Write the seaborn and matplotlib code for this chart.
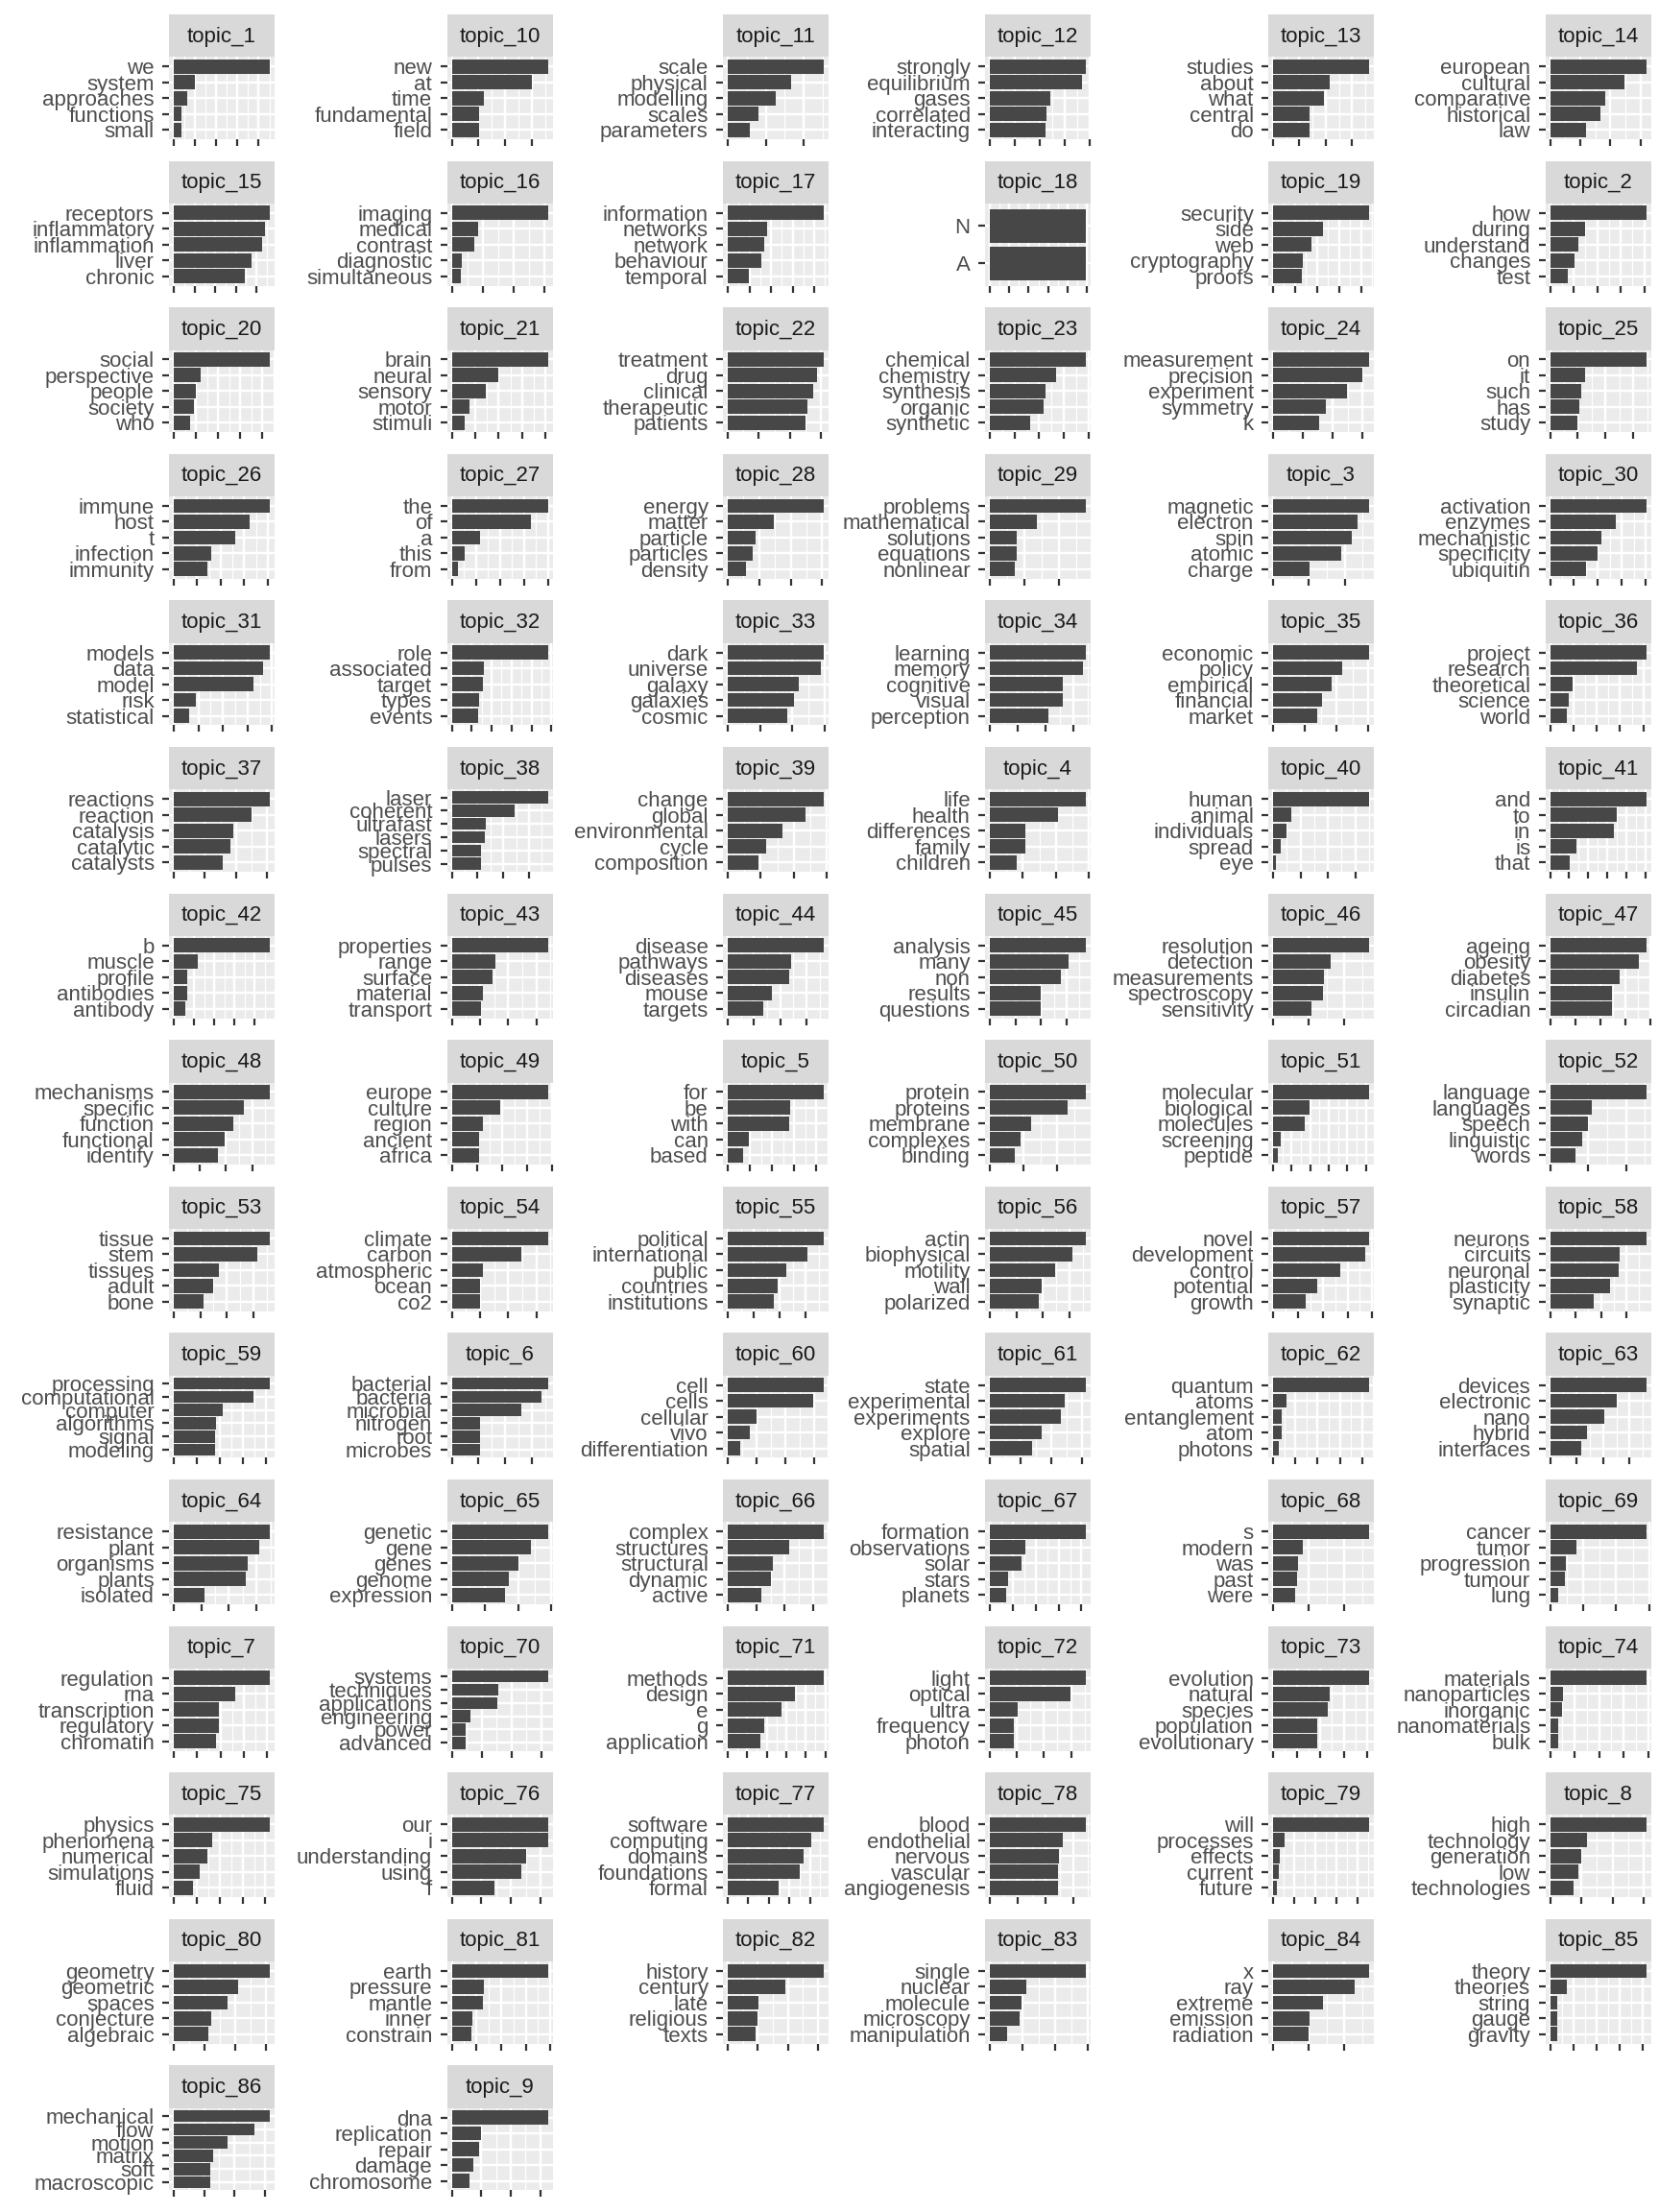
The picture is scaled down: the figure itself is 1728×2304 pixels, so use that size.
import numpy as np
import pandas as pd
import matplotlib
matplotlib.use("Agg")
import matplotlib.pyplot as plt
import seaborn as sns

plt.rcParams['font.family'] = ['Liberation Sans', 'DejaVu Sans']

# ---------------- data ----------------
topics = ["topic_1", "topic_10", "topic_11", "topic_12", "topic_13", "topic_14",
          "topic_15", "topic_16", "topic_17", "topic_18", "topic_19", "topic_2",
          "topic_20", "topic_21", "topic_22", "topic_23", "topic_24", "topic_25",
          "topic_26", "topic_27", "topic_28", "topic_29", "topic_3", "topic_30",
          "topic_31", "topic_32", "topic_33", "topic_34", "topic_35", "topic_36",
          "topic_37", "topic_38", "topic_39", "topic_4", "topic_40", "topic_41",
          "topic_42", "topic_43", "topic_44", "topic_45", "topic_46", "topic_47",
          "topic_48", "topic_49", "topic_5", "topic_50", "topic_51", "topic_52",
          "topic_53", "topic_54", "topic_55", "topic_56", "topic_57", "topic_58",
          "topic_59", "topic_6", "topic_60", "topic_61", "topic_62", "topic_63",
          "topic_64", "topic_65", "topic_66", "topic_67", "topic_68", "topic_69",
          "topic_7", "topic_70", "topic_71", "topic_72", "topic_73", "topic_74",
          "topic_75", "topic_76", "topic_77", "topic_78", "topic_79", "topic_8",
          "topic_80", "topic_81", "topic_82", "topic_83", "topic_84", "topic_85",
          "topic_86", "topic_9"]

terms = [
    ["we", "system", "approaches", "functions", "small"],
    ["new", "at", "time", "fundamental", "field"],
    ["scale", "physical", "modelling", "scales", "parameters"],
    ["strongly", "equilibrium", "gases", "correlated", "interacting"],
    ["studies", "about", "what", "central", "do"],
    ["european", "cultural", "comparative", "historical", "law"],
    ["receptors", "inflammatory", "inflammation", "liver", "chronic"],
    ["imaging", "medical", "contrast", "diagnostic", "simultaneous"],
    ["information", "networks", "network", "behaviour", "temporal"],
    ["N", "A"],
    ["security", "side", "web", "cryptography", "proofs"],
    ["how", "during", "understand", "changes", "test"],
    ["social", "perspective", "people", "society", "who"],
    ["brain", "neural", "sensory", "motor", "stimuli"],
    ["treatment", "drug", "clinical", "therapeutic", "patients"],
    ["chemical", "chemistry", "synthesis", "organic", "synthetic"],
    ["measurement", "precision", "experiment", "symmetry", "k"],
    ["on", "it", "such", "has", "study"],
    ["immune", "host", "t", "infection", "immunity"],
    ["the", "of", "a", "this", "from"],
    ["energy", "matter", "particle", "particles", "density"],
    ["problems", "mathematical", "solutions", "equations", "nonlinear"],
    ["magnetic", "electron", "spin", "atomic", "charge"],
    ["activation", "enzymes", "mechanistic", "specificity", "ubiquitin"],
    ["models", "data", "model", "risk", "statistical"],
    ["role", "associated", "target", "types", "events"],
    ["dark", "universe", "galaxy", "galaxies", "cosmic"],
    ["learning", "memory", "cognitive", "visual", "perception"],
    ["economic", "policy", "empirical", "financial", "market"],
    ["project", "research", "theoretical", "science", "world"],
    ["reactions", "reaction", "catalysis", "catalytic", "catalysts"],
    ["laser", "coherent", "ultrafast", "lasers", "spectral", "pulses"],
    ["change", "global", "environmental", "cycle", "composition"],
    ["life", "health", "differences", "family", "children"],
    ["human", "animal", "individuals", "spread", "eye"],
    ["and", "to", "in", "is", "that"],
    ["b", "muscle", "profile", "antibodies", "antibody"],
    ["properties", "range", "surface", "material", "transport"],
    ["disease", "pathways", "diseases", "mouse", "targets"],
    ["analysis", "many", "non", "results", "questions"],
    ["resolution", "detection", "measurements", "spectroscopy", "sensitivity"],
    ["ageing", "obesity", "diabetes", "insulin", "circadian"],
    ["mechanisms", "specific", "function", "functional", "identify"],
    ["europe", "culture", "region", "ancient", "africa"],
    ["for", "be", "with", "can", "based"],
    ["protein", "proteins", "membrane", "complexes", "binding"],
    ["molecular", "biological", "molecules", "screening", "peptide"],
    ["language", "languages", "speech", "linguistic", "words"],
    ["tissue", "stem", "tissues", "adult", "bone"],
    ["climate", "carbon", "atmospheric", "ocean", "co2"],
    ["political", "international", "public", "countries", "institutions"],
    ["actin", "biophysical", "motility", "wall", "polarized"],
    ["novel", "development", "control", "potential", "growth"],
    ["neurons", "circuits", "neuronal", "plasticity", "synaptic"],
    ["processing", "computational", "computer", "algorithms", "signal", "modeling"],
    ["bacterial", "bacteria", "microbial", "nitrogen", "root", "microbes"],
    ["cell", "cells", "cellular", "vivo", "differentiation"],
    ["state", "experimental", "experiments", "explore", "spatial"],
    ["quantum", "atoms", "entanglement", "atom", "photons"],
    ["devices", "electronic", "nano", "hybrid", "interfaces"],
    ["resistance", "plant", "organisms", "plants", "isolated"],
    ["genetic", "gene", "genes", "genome", "expression"],
    ["complex", "structures", "structural", "dynamic", "active"],
    ["formation", "observations", "solar", "stars", "planets"],
    ["s", "modern", "was", "past", "were"],
    ["cancer", "tumor", "progression", "tumour", "lung"],
    ["regulation", "rna", "transcription", "regulatory", "chromatin"],
    ["systems", "techniques", "applications", "engineering", "power", "advanced"],
    ["methods", "design", "e", "g", "application"],
    ["light", "optical", "ultra", "frequency", "photon"],
    ["evolution", "natural", "species", "population", "evolutionary"],
    ["materials", "nanoparticles", "inorganic", "nanomaterials", "bulk"],
    ["physics", "phenomena", "numerical", "simulations", "fluid"],
    ["our", "i", "understanding", "using", "f"],
    ["software", "computing", "domains", "foundations", "formal"],
    ["blood", "endothelial", "nervous", "vascular", "angiogenesis"],
    ["will", "processes", "effects", "current", "future"],
    ["high", "technology", "generation", "low", "technologies"],
    ["geometry", "geometric", "spaces", "conjecture", "algebraic"],
    ["earth", "pressure", "mantle", "inner", "constrain"],
    ["history", "century", "late", "religious", "texts"],
    ["single", "nuclear", "molecule", "microscopy", "manipulation"],
    ["x", "ray", "extreme", "emission", "radiation"],
    ["theory", "theories", "string", "gauge", "gravity"],
    ["mechanical", "flow", "motion", "matrix", "soft", "macroscopic"],
    ["dna", "replication", "repair", "damage", "chromosome"],
]

betas = [
    [0.0452, 0.0100, 0.0063, 0.0036, 0.0036],
    [0.0360, 0.0299, 0.0119, 0.0101, 0.0101],
    [0.0253, 0.0167, 0.0127, 0.0081, 0.0058],
    [0.0385, 0.0370, 0.0243, 0.0227, 0.0223],
    [0.0364, 0.0215, 0.0193, 0.0138, 0.0138],
    [0.0319, 0.0246, 0.0182, 0.0166, 0.0121],
    [0.0465, 0.0444, 0.0428, 0.0377, 0.0344],
    [0.0312, 0.0087, 0.0072, 0.0034, 0.0030],
    [0.0444, 0.0182, 0.0169, 0.0155, 0.0098],
    [0.0495, 0.0495],
    [0.0436, 0.0227, 0.0174, 0.0135, 0.0131],
    [0.0407, 0.0147, 0.0122, 0.0102, 0.0077],
    [0.0434, 0.0122, 0.0100, 0.0091, 0.0074],
    [0.0409, 0.0200, 0.0147, 0.0074, 0.0057],
    [0.0308, 0.0286, 0.0274, 0.0256, 0.0249],
    [0.0389, 0.0268, 0.0226, 0.0218, 0.0163],
    [0.0321, 0.0299, 0.0247, 0.0177, 0.0154],
    [0.0346, 0.0125, 0.0114, 0.0107, 0.0100],
    [0.0409, 0.0323, 0.0262, 0.0160, 0.0143],
    [0.0400, 0.0328, 0.0116, 0.0052, 0.0024],
    [0.0305, 0.0146, 0.0088, 0.0079, 0.0058],
    [0.0279, 0.0137, 0.0078, 0.0078, 0.0073],
    [0.0268, 0.0236, 0.0220, 0.0190, 0.0102],
    [0.0402, 0.0277, 0.0217, 0.0197, 0.0149],
    [0.0391, 0.0364, 0.0325, 0.0090, 0.0063],
    [0.0481, 0.0159, 0.0154, 0.0139, 0.0130],
    [0.0297, 0.0288, 0.0220, 0.0205, 0.0184],
    [0.0344, 0.0334, 0.0261, 0.0261, 0.0210],
    [0.0303, 0.0218, 0.0185, 0.0155, 0.0139],
    [0.0411, 0.0374, 0.0095, 0.0082, 0.0070],
    [0.0309, 0.0250, 0.0192, 0.0182, 0.0158],
    [0.0373, 0.0246, 0.0134, 0.0127, 0.0112, 0.0112],
    [0.0290, 0.0235, 0.0165, 0.0116, 0.0093],
    [0.0290, 0.0206, 0.0107, 0.0107, 0.0081],
    [0.0350, 0.0067, 0.0049, 0.0028, 0.0012],
    [0.0503, 0.0352, 0.0332, 0.0136, 0.0101],
    [0.0476, 0.0119, 0.0067, 0.0067, 0.0057],
    [0.0340, 0.0156, 0.0143, 0.0112, 0.0105],
    [0.0366, 0.0242, 0.0234, 0.0168, 0.0135],
    [0.0375, 0.0308, 0.0278, 0.0199, 0.0199],
    [0.0270, 0.0162, 0.0143, 0.0140, 0.0108],
    [0.0381, 0.0354, 0.0278, 0.0244, 0.0244],
    [0.0367, 0.0268, 0.0228, 0.0195, 0.0169],
    [0.0381, 0.0194, 0.0122, 0.0107, 0.0107],
    [0.0433, 0.0281, 0.0277, 0.0095, 0.0069],
    [0.0284, 0.0230, 0.0122, 0.0091, 0.0074],
    [0.0517, 0.0196, 0.0171, 0.0041, 0.0026],
    [0.0253, 0.0111, 0.0099, 0.0086, 0.0066],
    [0.0362, 0.0315, 0.0170, 0.0148, 0.0112],
    [0.0340, 0.0248, 0.0112, 0.0099, 0.0099],
    [0.0369, 0.0306, 0.0225, 0.0192, 0.0177],
    [0.0362, 0.0311, 0.0246, 0.0195, 0.0185],
    [0.0387, 0.0372, 0.0271, 0.0178, 0.0132],
    [0.0377, 0.0275, 0.0271, 0.0234, 0.0170],
    [0.0416, 0.0345, 0.0212, 0.0183, 0.0179, 0.0179],
    [0.0358, 0.0333, 0.0258, 0.0104, 0.0104, 0.0104],
    [0.0335, 0.0298, 0.0101, 0.0077, 0.0044],
    [0.0314, 0.0245, 0.0232, 0.0170, 0.0138],
    [0.0431, 0.0060, 0.0039, 0.0039, 0.0024],
    [0.0362, 0.0253, 0.0203, 0.0138, 0.0116],
    [0.0348, 0.0310, 0.0268, 0.0261, 0.0111],
    [0.0289, 0.0237, 0.0202, 0.0173, 0.0159],
    [0.0337, 0.0216, 0.0158, 0.0152, 0.0118],
    [0.0419, 0.0155, 0.0138, 0.0080, 0.0071],
    [0.0270, 0.0084, 0.0070, 0.0068, 0.0062],
    [0.0290, 0.0081, 0.0049, 0.0044, 0.0026],
    [0.0411, 0.0263, 0.0193, 0.0193, 0.0181],
    [0.0321, 0.0157, 0.0154, 0.0061, 0.0045, 0.0045],
    [0.0492, 0.0344, 0.0276, 0.0187, 0.0167],
    [0.0355, 0.0298, 0.0103, 0.0089, 0.0089],
    [0.0407, 0.0240, 0.0232, 0.0187, 0.0187],
    [0.0391, 0.0051, 0.0047, 0.0035, 0.0035],
    [0.0419, 0.0168, 0.0147, 0.0113, 0.0084],
    [0.0323, 0.0323, 0.0249, 0.0233, 0.0145],
    [0.0467, 0.0406, 0.0369, 0.0350, 0.0248],
    [0.0344, 0.0261, 0.0248, 0.0244, 0.0244],
    [0.0455, 0.0055, 0.0032, 0.0027, 0.0020],
    [0.0307, 0.0117, 0.0101, 0.0092, 0.0074],
    [0.0314, 0.0210, 0.0176, 0.0122, 0.0113],
    [0.0389, 0.0130, 0.0128, 0.0082, 0.0078],
    [0.0319, 0.0191, 0.0102, 0.0099, 0.0093],
    [0.0294, 0.0112, 0.0097, 0.0091, 0.0053],
    [0.0270, 0.0230, 0.0140, 0.0103, 0.0100],
    [0.0416, 0.0071, 0.0033, 0.0033, 0.0033],
    [0.0316, 0.0265, 0.0177, 0.0130, 0.0120, 0.0120],
    [0.0325, 0.0098, 0.0094, 0.0072, 0.0059],
]

# long table
rows = []
for t, ws, bs in zip(topics, terms, betas):
    for w, b in zip(ws, bs):
        rows.append({"topic": t, "term": w, "beta": b})
df = pd.DataFrame(rows)

# ---------------- layout / style ----------------
W, H = 1728, 2304
fig = plt.figure(figsize=(W / 100, H / 100), dpi=100)

ncol = 6
col_left = [176, 465.5, 753, 1026, 1321, 1609.5]
panel_w = 110
row_top0 = 15
row_pitch = 152.6
strip_h = 44.3
panel_h = 85.7

BAR = "#474747"
PANEL_BG = "#EBEBEB"
STRIP_BG = "#D9D9D9"
FS = 16
STEP = 0.01

for i, t in enumerate(topics):
    r, c = divmod(i, ncol)
    left = col_left[c]
    top = row_top0 + r * row_pitch
    # strip
    sax = fig.add_axes([left / W, 1 - (top + strip_h) / H, panel_w / W, strip_h / H])
    sax.set_facecolor(STRIP_BG)
    sax.set_xticks([]); sax.set_yticks([])
    for sp in sax.spines.values():
        sp.set_visible(False)
    sax.text(0.5, 0.48, t, ha="center", va="center", fontsize=FS, color="#1A1A1A",
             transform=sax.transAxes)
    # panel
    ax = fig.add_axes([left / W, 1 - (top + strip_h + panel_h) / H, panel_w / W, panel_h / H])
    sub = df[df["topic"] == t]
    sns.barplot(data=sub, x="beta", y="term", ax=ax, color=BAR, saturation=1,
                width=0.9, errorbar=None, orient="h")
    n = len(sub)
    m = sub["beta"].max()
    ax.set_xlim(-0.05 * m, 1.05 * m)
    ax.set_ylim(n - 1 + 0.6, -0.6)
    majors = np.arange(0, 1.05 * m + 1e-9, STEP)
    minors = np.arange(STEP / 2, 1.05 * m + 1e-9, STEP)
    ax.set_xticks(majors)
    ax.set_xticks(minors, minor=True)
    ax.set_facecolor(PANEL_BG)
    ax.set_axisbelow(True)
    ax.grid(True, which="major", color="white", linewidth=1.75)
    ax.grid(True, which="minor", axis="x", color="white", linewidth=0.9)
    for sp in ax.spines.values():
        sp.set_visible(False)
    ax.set_xlabel("")
    ax.set_ylabel("")
    ax.tick_params(axis="x", which="major", direction="out", length=5, width=1.6,
                   color="#333333", labelbottom=False)
    ax.tick_params(axis="x", which="minor", length=0)
    ax.tick_params(axis="y", which="major", direction="out", length=5, width=1.6,
                   color="#333333", labelsize=FS, labelcolor="#4D4D4D", pad=6)

fig.savefig("out.png", dpi=100, facecolor="white")
